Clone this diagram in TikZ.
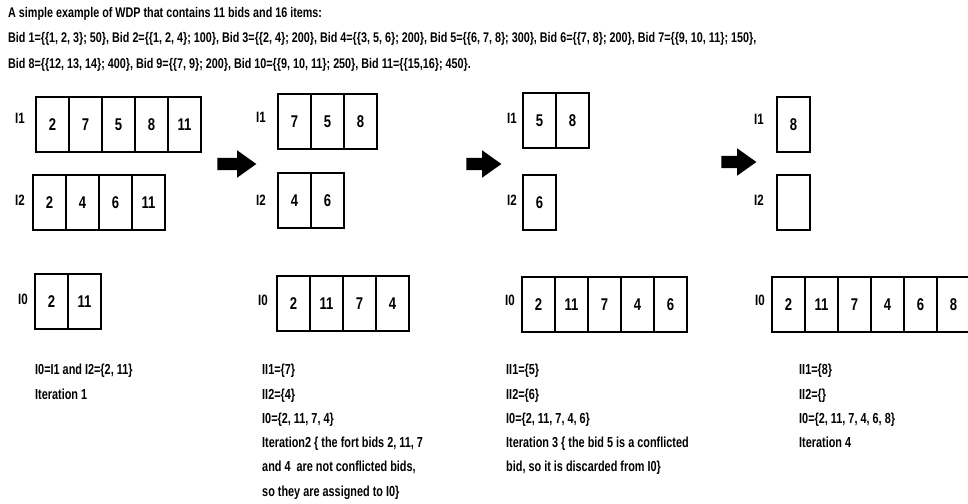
\documentclass[tikz,border=0pt]{standalone}
\usepackage{fontspec}
\setmainfont{Liberation Sans}[FakeStretch=0.77]
\newfontfamily\slimfont{Liberation Sans}[FakeStretch=0.75]
\usetikzlibrary{positioning,shapes.arrows}

\begin{document}
\begin{tikzpicture}[x=1pt,y=-1pt,
    every node/.style={font=\bfseries},
    cell/.style={draw,line width=2.8pt,minimum width=33pt,minimum height=55pt,inner sep=0pt,outer sep=0pt,font=\bfseries\fontsize{17}{17}\selectfont},
    setname/.style={inner sep=0pt,font=\bfseries\fontsize{15}{15}\selectfont},
    note/.style={anchor=north west,align=left,inner sep=0pt,font=\slimfont\bfseries\fontsize{14.5}{24.3}\selectfont},
    bigarrow/.style={single arrow,fill=black,inner sep=6pt,single arrow head extend=7.5pt,single arrow tip angle=71,minimum width=27pt}]
    \useasboundingbox (0,0) rectangle (968,503);
    \node [anchor=north west,align=left,inner sep=0pt,font=\bfseries\fontsize{14}{25.5}\selectfont] (title) at (8,7)
        {A simple example of WDP that contains 11 bids and 16 items:\\
         Bid 1=\{\{1, 2, 3\}; 50\}, Bid 2=\{\{1, 2, 4\}; 100\}, Bid 3=\{\{2, 4\}; 200\}, Bid 4=\{\{3, 5, 6\}; 200\}, Bid 5=\{\{6, 7, 8\}; 300\}, Bid 6=\{\{7, 8\}; 200\}, Bid 7=\{\{9, 10, 11\}; 150\},\\
         Bid 8=\{\{12, 13, 14\}; 400\}, Bid 9=\{\{7, 9\}; 200\}, Bid 10=\{\{9, 10, 11\}; 250\}, Bid 11=\{\{15,16\}; 450\}.};

    \node [setname] (ia1) at (20,118) {I1};
    \node [cell,anchor=north west] (a1a) at (36,97) {2};
    \node [cell,right=0pt of a1a] (a1b) {7};
    \node [cell,right=0pt of a1b] (a1c) {5};
    \node [cell,right=0pt of a1c] (a1d) {8};
    \node [cell,right=0pt of a1d] (a1e) {11};
    \node [setname] (ia2) at (20,200) {I2};
    \node [cell,anchor=north west] (a2a) at (33,175) {2};
    \node [cell,right=0pt of a2a] (a2b) {4};
    \node [cell,right=0pt of a2b] (a2c) {6};
    \node [cell,right=0pt of a2c] (a2d) {11};
    \node [setname] (ia0) at (23,299) {I0};
    \node [cell,anchor=north west] (a0a) at (35,274) {2};
    \node [cell,right=0pt of a0a] (a0b) {11};
    \node [note] (ta) at (35,364) {I0=I1 and I2=\{2, 11\}\\Iteration 1};

    \node [bigarrow,minimum height=39pt] (step1) at (232.5,164) {};

    \node [setname] (ib1) at (261,117) {I1};
    \node [cell,anchor=north west] (b1a) at (278,94) {7};
    \node [cell,right=0pt of b1a] (b1b) {5};
    \node [cell,right=0pt of b1b] (b1c) {8};
    \node [setname] (ib2) at (261,200) {I2};
    \node [cell,anchor=north west] (b2a) at (278,173) {4};
    \node [cell,right=0pt of b2a] (b2b) {6};
    \node [setname] (ib0) at (263,300) {I0};
    \node [cell,anchor=north west] (b0a) at (277,276) {2};
    \node [cell,right=0pt of b0a] (b0b) {11};
    \node [cell,right=0pt of b0b] (b0c) {7};
    \node [cell,right=0pt of b0c] (b0d) {4};
    \node [note] (tb) at (262,364) {II1=\{7\}\\II2=\{4\}\\I0=\{2, 11, 7, 4\}\\Iteration2 \{ the fort bids 2, 11, 7\\and 4~ are not conflicted bids,\\so they are assigned to I0\}};

    \node [bigarrow,minimum height=35pt] (step2) at (479.5,164) {};

    \node [setname] (ic1) at (512,118) {I1};
    \node [cell,anchor=north west] (c1a) at (523,93) {5};
    \node [cell,right=0pt of c1a] (c1b) {8};
    \node [setname] (ic2) at (512,200) {I2};
    \node [cell,anchor=north west] (c2a) at (523,175) {6};
    \node [setname] (ic0) at (510,300) {I0};
    \node [cell,anchor=north west] (c0a) at (522,277) {2};
    \node [cell,right=0pt of c0a] (c0b) {11};
    \node [cell,right=0pt of c0b] (c0c) {7};
    \node [cell,right=0pt of c0c] (c0d) {4};
    \node [cell,right=0pt of c0d] (c0e) {6};
    \node [note] (tc) at (506,364) {II1=\{5\}\\II2=\{6\}\\I0=\{2, 11, 7, 4, 6\}\\Iteration 3 \{ the bid 5 is a conflicted\\bid, so it is discarded from I0\}};

    \node [bigarrow,minimum height=35pt] (step3) at (734.5,162) {};

    \node [setname] (id1) at (759,119) {I1};
    \node [cell,anchor=north west] (d1a) at (777,97) {8};
    \node [setname] (id2) at (759,200) {I2};
    \node [cell,anchor=north west] (d2a) at (777,175) {};
    \node [setname] (id0) at (760,300) {I0};
    \node [cell,anchor=north west] (d0a) at (772,277) {2};
    \node [cell,right=0pt of d0a] (d0b) {11};
    \node [cell,right=0pt of d0b] (d0c) {7};
    \node [cell,right=0pt of d0c] (d0d) {4};
    \node [cell,right=0pt of d0d] (d0e) {6};
    \node [cell,right=0pt of d0e] (d0f) {8};
    \node [note] (td) at (799,364) {II1=\{8\}\\II2=\{\}\\I0=\{2, 11, 7, 4, 6, 8\}\\Iteration 4};
\end{tikzpicture}
\end{document}
